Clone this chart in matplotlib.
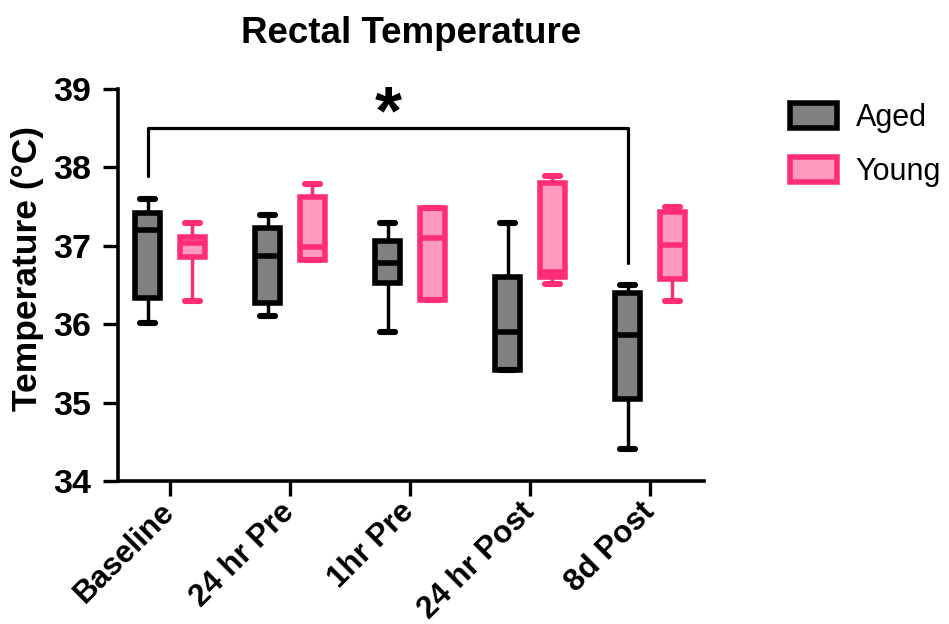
import matplotlib
matplotlib.use("Agg")
import matplotlib.pyplot as plt
from matplotlib.patches import Patch

plt.rcParams['font.family'] = ['Liberation Sans', 'DejaVu Sans']

# time points
categories = ['Baseline', '24 hr Pre', '1hr Pre', '24 hr Post', '8d Post']

# box stats (deg C)
aged_min = [36.01, 36.10, 35.90, 35.42, 34.41]
aged_q1 = [36.33, 36.27, 36.52, 35.42, 35.05]
aged_med = [37.20, 36.87, 36.78, 35.90, 35.86]
aged_q3 = [37.42, 37.23, 37.06, 36.60, 36.40]
aged_max = [37.60, 37.39, 37.29, 37.29, 36.50]

young_min = [36.30, 36.82, 36.31, 36.51, 36.30]
young_q1 = [36.86, 36.82, 36.31, 36.60, 36.58]
young_med = [37.04, 36.99, 37.10, 36.67, 37.01]
young_q3 = [37.11, 37.62, 37.48, 37.80, 37.43]
young_max = [37.29, 37.79, 37.48, 37.89, 37.50]

# significance bracket: Baseline vs 8d Post (aged)
sig_left_y = 37.89
sig_right_y = 36.78
sig_top_y = 38.50

aged_edge, aged_fill = 'black', '#808080'
young_edge, young_fill = '#FF2D78', '#FF99BF'


def make_stats(mn, q1, med, q3, mx):
    return [dict(whislo=a, q1=b, med=c, q3=d, whishi=e, fliers=[])
            for a, b, c, d, e in zip(mn, q1, med, q3, mx)]


fig = plt.figure(figsize=(9.49, 6.24), dpi=100)
ax = fig.add_axes([0.1243, 0.2292, 0.7418 - 0.1243, 0.8574 - 0.2292])

off = 0.185
x = list(range(len(categories)))
lw_box = 4.0

for stats, dx, ec, fc in [(make_stats(aged_min, aged_q1, aged_med, aged_q3, aged_max), -off, aged_edge, aged_fill),
                          (make_stats(young_min, young_q1, young_med, young_q3, young_max), off, young_edge, young_fill)]:
    ax.bxp(stats, positions=[i + dx for i in x], widths=0.21, capwidths=0.125,
           patch_artist=True, showfliers=False,
           boxprops=dict(facecolor=fc, edgecolor=ec, linewidth=lw_box),
           medianprops=dict(color=ec, linewidth=lw_box, solid_capstyle='butt'),
           whiskerprops=dict(color=ec, linewidth=2.5, solid_capstyle='round'),
           capprops=dict(color=ec, linewidth=4.4, solid_capstyle='round'),
           manage_ticks=False)

# bracket and star
xl, xr = x[0] - off, x[4] - off
ax.plot([xl, xl, xr, xr], [sig_left_y, sig_top_y, sig_top_y, sig_right_y],
        color='black', lw=2.3, solid_capstyle='round', clip_on=False)
ax.text((x[1] + x[2]) / 2 + 0.32, 38.26, '*', fontsize=50, fontweight='bold',
        ha='center', va='bottom')

ax.set_xlim(-0.433, 4.45)
ax.set_ylim(34, 39)
ax.set_yticks([34, 35, 36, 37, 38, 39])
ax.set_xticks(x)
ax.set_xticklabels(categories, rotation=45, ha='right', va='center',
                   rotation_mode='anchor', fontsize=22.5, fontweight='bold')
ax.tick_params(axis='y', labelsize=24.5, width=2.4, length=11, pad=8)
ax.tick_params(axis='x', width=2.4, length=11, pad=8)
for lab in ax.get_yticklabels():
    lab.set_fontweight('bold')

for s in ['top', 'right']:
    ax.spines[s].set_visible(False)
for s in ['left', 'bottom']:
    ax.spines[s].set_linewidth(2.6)

ax.set_ylabel('Temperature (°C)', fontsize=25.5, fontweight='bold')
ax.yaxis.set_label_coords(-0.126, 0.543)
ax.set_title('Rectal Temperature', fontsize=26.5, fontweight='bold', pad=33)

handles = [Patch(facecolor=aged_fill, edgecolor=aged_edge, linewidth=lw_box, label='Aged'),
           Patch(facecolor=young_fill, edgecolor=young_edge, linewidth=lw_box, label='Young')]
fig.legend(handles=handles, loc='upper left', bbox_to_anchor=(790 / 949, 1 - 103 / 624),
           frameon=False, fontsize=22, handlelength=1.55, handleheight=0.9,
           handletextpad=0.6, labelspacing=0.78, borderpad=0, borderaxespad=0)

fig.savefig('out.png', dpi=100)
